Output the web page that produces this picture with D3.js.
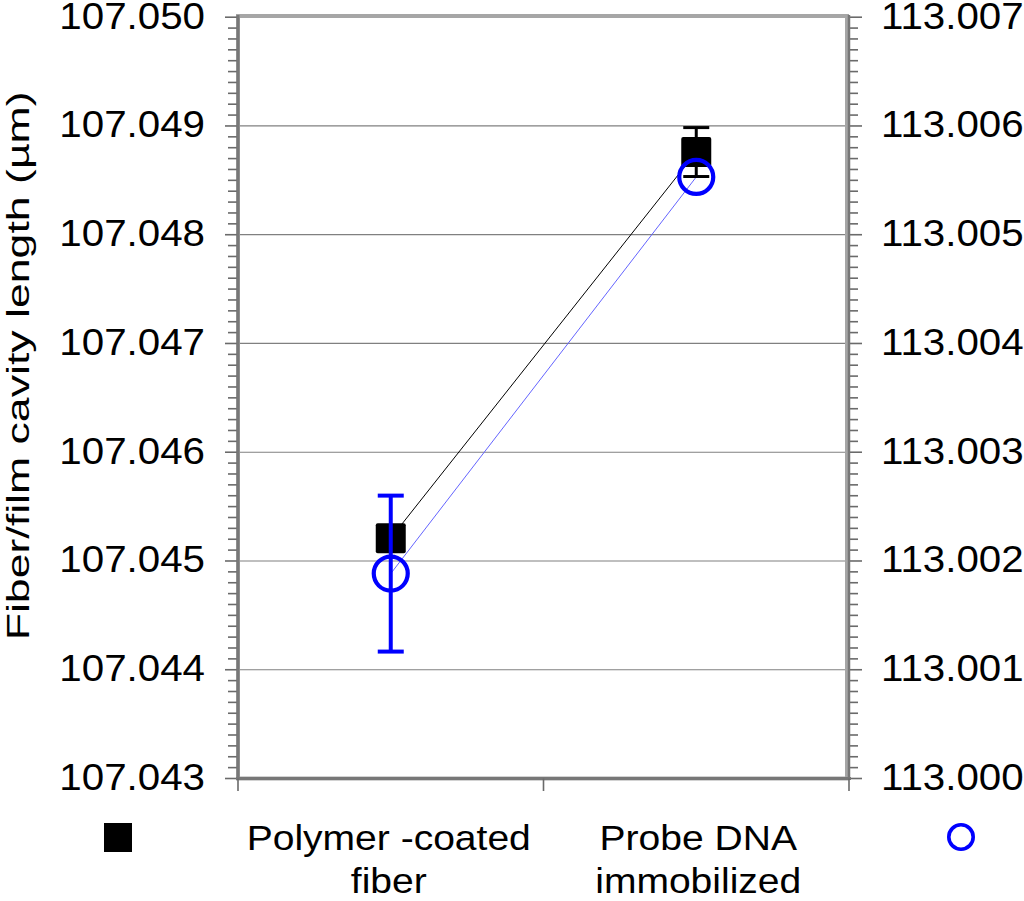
<!DOCTYPE html>
<html><head><meta charset="utf-8">
<script src="https://cdn.jsdelivr.net/npm/d3@7"></script>
<style>body{margin:0;background:#fff}svg{display:block;font-family:"Liberation Sans",Arial,sans-serif}</style>
</head><body><svg id="c" width="1024" height="901"></svg>
<script>
const categories = [["Polymer -coated","fiber"],["Probe DNA","immobilized"]];
const catKeys = ["Polymer -coated fiber","Probe DNA immobilized"];
const leftValues = [107.04521, 107.04876];
const leftErrors = [0.00001, 0.000225];
const rightValues = [113.001884, 113.005531];
const rightErrors = [0.000717, 0];
const leftTicks = ["107.043","107.044","107.045","107.046","107.047","107.048","107.049","107.050"];
const rightTicks = ["113.000","113.001","113.002","113.003","113.004","113.005","113.006","113.007"];
const yTitle = "Fiber/film cavity length (µm)";

const svg = d3.select("#c");
const L = 238, R = 849, T = 17.2, B = 778.5;
const x = d3.scaleBand().domain(catKeys).range([L, R]).padding(0);
const yL = d3.scaleLinear().domain([107.043, 107.050]).range([B, T]);
const yR = d3.scaleLinear().domain([113.000, 113.007]).range([B, T]);

// gridlines
svg.append("g").selectAll("line").data(leftTicks.slice(1, -1)).join("line")
  .attr("x1", L).attr("x2", R).attr("y1", d => yL(+d)).attr("y2", d => yL(+d))
  .attr("stroke", "#808080").attr("stroke-width", 1.2);

// plot frame
svg.append("rect").attr("x", L).attr("y", 16).attr("width", 847 - L).attr("height", B - 16)
  .attr("fill", "none").attr("stroke", "#a6a6a6").attr("stroke-width", 4);

// minor ticks
const minor = d3.range(0, 71).map(i => 107.043 + i * 0.0001);
svg.append("g").selectAll("line").data(minor).join("line")
  .attr("x1", (d, i) => i % 10 === 0 ? 225 : 228).attr("x2", L)
  .attr("y1", d => yL(d)).attr("y2", d => yL(d))
  .attr("stroke", "#6a6a6a").attr("stroke-width", 1.6);
const minorR = d3.range(0, 71).map(i => 113.000 + i * 0.0001);
svg.append("g").selectAll("line").data(minorR).join("line")
  .attr("x1", R).attr("x2", (d, i) => i % 10 === 0 ? 862 : 858)
  .attr("y1", d => yR(d)).attr("y2", d => yR(d))
  .attr("stroke", "#6a6a6a").attr("stroke-width", 1.6);

// axis lines
svg.append("line").attr("x1", L).attr("x2", L).attr("y1", 15).attr("y2", B + 1).attr("stroke", "#777").attr("stroke-width", 3);
svg.append("line").attr("x1", R).attr("x2", R).attr("y1", 15).attr("y2", B + 1).attr("stroke", "#777").attr("stroke-width", 2.5);
svg.append("line").attr("x1", L - 2).attr("x2", R + 2).attr("y1", B).attr("y2", B).attr("stroke", "#777").attr("stroke-width", 3);

// x ticks at band boundaries
const xb = [x(catKeys[0]), x(catKeys[1]), x(catKeys[1]) + x.bandwidth()];
svg.append("g").selectAll("line").data(xb).join("line")
  .attr("x1", d => d).attr("x2", d => d).attr("y1", B).attr("y2", 791)
  .attr("stroke", "#6a6a6a").attr("stroke-width", 1.6);

// tick labels
const fs = 37.5, sx = 1.075;
svg.append("g").selectAll("text").data(leftTicks).join("text")
  .attr("transform", d => `translate(205,${yL(+d) + 11.5}) scale(${sx},1)`)
  .attr("text-anchor", "end").attr("font-size", fs).attr("fill", "#000").text(d => d);
svg.append("g").selectAll("text").data(rightTicks).join("text")
  .attr("transform", d => `translate(881,${yR(+d) + 11.5}) scale(${sx},1)`)
  .attr("text-anchor", "start").attr("font-size", fs).attr("fill", "#000").text(d => d);

// y title
svg.append("text").attr("transform", `translate(29,${(T + B) / 2 - 32}) rotate(-90) scale(1.44,1)`)
  .attr("text-anchor", "middle").attr("font-size", 31).attr("fill", "#000").text(yTitle);

// category labels
categories.forEach((lines, i) => {
  const cx = x(catKeys[i]) + x.bandwidth() / 2 - 2;
  lines.forEach((t, j) => {
    svg.append("text").attr("transform", `translate(${cx + (i ? 4 : 0)},${850 + j * 43}) scale(1.1,1)`)
      .attr("text-anchor", "middle").attr("font-size", 35.5).attr("fill", "#000").text(t);
  });
});

const cxs = catKeys.map(k => x(k) + x.bandwidth() / 2);

// connecting lines
svg.append("path").datum(leftValues).attr("fill", "none").attr("stroke", "#000").attr("stroke-width", 1)
  .attr("d", d3.line().x((d, i) => cxs[i]).y(d => yL(d)));
svg.append("path").datum(rightValues).attr("fill", "none").attr("stroke", "#6464ff").attr("stroke-width", 1)
  .attr("d", d3.line().x((d, i) => cxs[i]).y(d => yR(d)));

// black squares + error bars
const gb = svg.append("g");
leftValues.forEach((v, i) => {
  const cx = cxs[i], e = leftErrors[i];
  gb.append("line").attr("x1", cx).attr("x2", cx).attr("y1", yL(v + e)).attr("y2", yL(v - e)).attr("stroke", "#000").attr("stroke-width", 3);
  [v + e, v - e].forEach(w => gb.append("line").attr("x1", cx - 13).attr("x2", cx + 13).attr("y1", yL(w)).attr("y2", yL(w)).attr("stroke", "#000").attr("stroke-width", 3));
  gb.append("rect").attr("x", cx - 15).attr("y", yL(v) - 15).attr("width", 30).attr("height", 30).attr("rx", 2).attr("fill", "#000");
});

// blue circles + error bars
const gc = svg.append("g");
rightValues.forEach((v, i) => {
  const cx = cxs[i], e = rightErrors[i];
  if (e > 0) {
    gc.append("line").attr("x1", cx).attr("x2", cx).attr("y1", yR(v + e)).attr("y2", yR(v - e)).attr("stroke", "#0000ff").attr("stroke-width", 4);
    [v + e, v - e].forEach(w => gc.append("line").attr("x1", cx - 13).attr("x2", cx + 13).attr("y1", yR(w)).attr("y2", yR(w)).attr("stroke", "#0000ff").attr("stroke-width", 4));
  }
  gc.append("circle").attr("cx", cx).attr("cy", yR(v)).attr("r", 17).attr("fill", "none").attr("stroke", "#0000ff").attr("stroke-width", 4.2);
});

// legend markers
svg.append("rect").attr("x", 104).attr("y", 823).attr("width", 28).attr("height", 29).attr("fill", "#000");
svg.append("circle").attr("cx", 961).attr("cy", 837).attr("r", 12.2).attr("fill", "none").attr("stroke", "#0000ff").attr("stroke-width", 3.6);
</script></body></html>
